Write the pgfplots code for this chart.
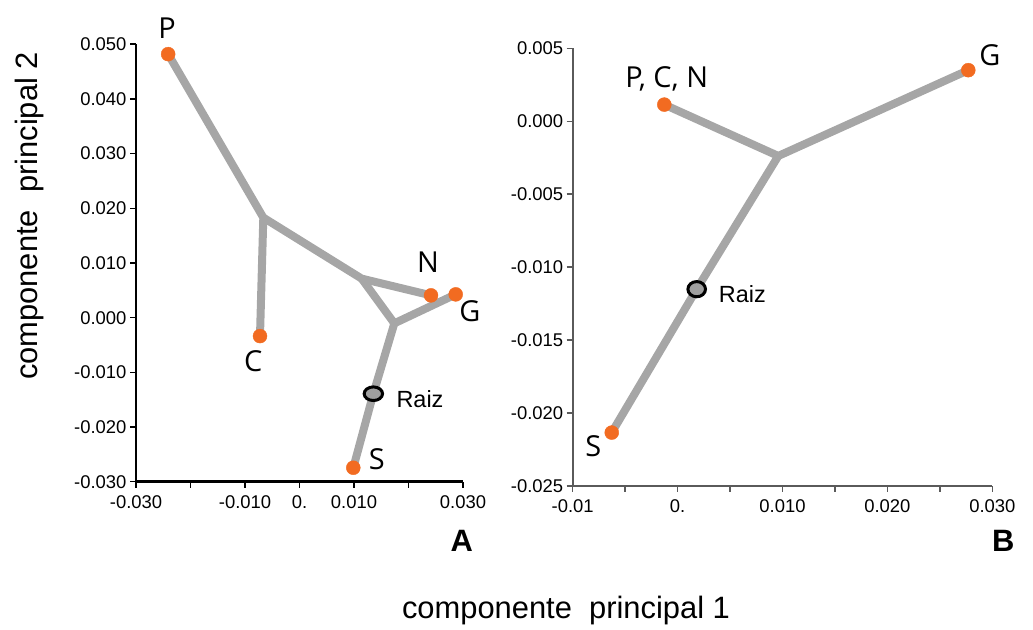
\documentclass[border=0pt]{standalone}
\usepackage{fontspec}
\setmainfont{Liberation Sans}
\newfontfamily\labfont{Open Sans}
\usepackage{pgfplots}
\pgfplotsset{compat=1.18}
\definecolor{org}{HTML}{F26B21}
\definecolor{edge}{HTML}{A6A6A6}
\definecolor{axB}{HTML}{5A5A5A}
\tikzset{lbl/.style={font=\labfont\fontsize{29}{30}\selectfont, anchor=center}}
\pgfplotsset{
  tree/.style={
    scale only axis, clip=false,
    axis lines=left,
    scaled x ticks=false, scaled y ticks=false,
    tick align=outside,
    major tick length=6bp, minor tick length=6bp,
    ticklabel style={font=\fontsize{18.5}{19}\selectfont, text=black},
    xticklabel style={yshift=-4bp},
    /pgf/number format/assume math mode=true,
  },
  edgeline/.style={edge, line width=8bp, line join=round, no markers},
  leaf/.style={only marks, mark=*, mark size=7bp, color=org},
}
\begin{document}
\begin{tikzpicture}[x=1bp,y=1bp]
\useasboundingbox (0,0) rectangle (1033,630);
% ---------------- Panel A ----------------
\begin{axis}[tree,
  at={(136bp,148.3bp)}, anchor=south west,
  width=327bp, height=437.4bp,
  xmin=-0.03, xmax=0.03, ymin=-0.03, ymax=0.05,
  axis line style={-, line width=2.5bp, black},
  tick style={line width=1.6bp, black},
  xtick={-0.03,-0.02,-0.01,0,0.01,0.02,0.03},
  xticklabels={-0.030,,-0.010,0.,0.010,,0.030},
  ytick={-0.03,-0.02,-0.01,0,0.01,0.02,0.03,0.04,0.05},
  yticklabels={-0.030,-0.020,-0.010,0.000,0.010,0.020,0.030,0.040,0.050},
]
\addplot[edgeline] coordinates {(-0.0241,0.0482) (-0.00664,0.0183) (-0.00725,-0.00337)};
\addplot[edgeline] coordinates {(-0.00664,0.0183) (0.01141,0.00714) (0.02413,0.00408)};
\addplot[edgeline] coordinates {(0.01141,0.00714) (0.01740,-0.00104) (0.02866,0.00426)};
\addplot[edgeline] coordinates {(0.01740,-0.00104) (0.01355,-0.01391) (0.00987,-0.02745)};
\addplot[leaf] coordinates {(-0.0241,0.0482) (-0.00725,-0.00337) (0.02413,0.00408) (0.02866,0.00426) (0.00987,-0.02745)};
\addplot[only marks, mark=*, mark size=8bp, mark options={fill=gray!75, draw=black, line width=3bp, xscale=1.15, yscale=0.85}] coordinates {(0.01355,-0.01391)};
\node[lbl] at (axis cs:-0.0243,0.0529) {P};
\node[lbl] at (axis cs:-0.0085,-0.00794) {C};
\node[lbl] at (axis cs:0.0236,0.01006) {N};
\node[lbl] at (axis cs:0.03128,0.00121) {G};
\node[lbl] at (axis cs:0.01417,-0.02593) {S};
\node[font=\fontsize{23.5}{24}\selectfont] at (axis cs:0.02211,-0.01482) {Raiz};
\end{axis}
% ---------------- Panel B ----------------
\begin{axis}[tree,
  at={(572.7bp,144bp)}, anchor=south west,
  width=419.6bp, height=437.7bp,
  xmin=-0.01, xmax=0.03, ymin=-0.025, ymax=0.005,
  axis line style={-, line width=2bp, axB},
  tick style={line width=1.4bp, axB},
  xtick={-0.01,-0.005,0,0.005,0.01,0.015,0.02,0.025,0.03},
  xticklabels={-0.01,,0.,,0.010,,0.020,,0.030},
  ytick={-0.025,-0.02,-0.015,-0.01,-0.005,0,0.005},
  yticklabels={-0.025,-0.020,-0.015,-0.010,-0.005,0.000,0.005},
]
\addplot[edgeline] coordinates {(-0.00127,0.00114) (0.0096,-0.00238) (0.02771,0.0035)};
\addplot[edgeline] coordinates {(0.0096,-0.00238) (0.00182,-0.01151) (-0.00628,-0.02134)};
\addplot[leaf] coordinates {(-0.00127,0.00114) (0.02771,0.0035) (-0.00628,-0.02134)};
\addplot[only marks, mark=*, mark size=8bp, mark options={fill=gray!75, draw=black, line width=3bp, xscale=1.1, yscale=0.95}] coordinates {(0.00182,-0.01151)};
\node[lbl] at (axis cs:-0.00104,0.00288) {P, C, N};
\node[lbl] at (axis cs:0.02978,0.00452) {G};
\node[lbl] at (axis cs:-0.00804,-0.02225) {S};
\node[font=\fontsize{23.5}{24}\selectfont] at (axis cs:0.00617,-0.01186) {Raiz};
\end{axis}
% ---------------- titles ----------------
\node[font=\bfseries\fontsize{31}{32}\selectfont] at (461.7,89) {A};
\node[font=\bfseries\fontsize{31}{32}\selectfont] at (1003.3,89) {B};
\node[font=\fontsize{31}{32}\selectfont] at (566,19) {componente\ \ principal 1};
\node[font=\fontsize{31}{32}\selectfont, rotate=90] at (30,414) {componente\ \ principal 2};
\end{tikzpicture}
\end{document}
